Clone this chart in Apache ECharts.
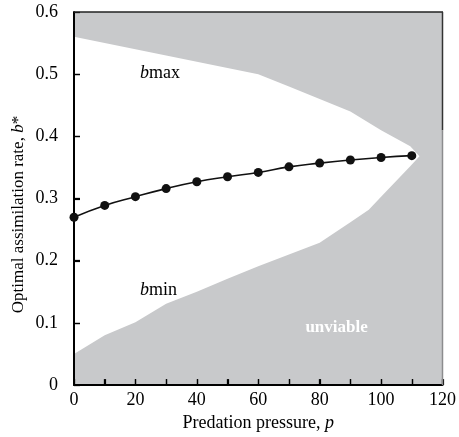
<!DOCTYPE html>
<html>
<head>
<meta charset="utf-8">
<script src="https://cdn.jsdelivr.net/npm/echarts@6/dist/echarts.min.js"></script>
<style>html,body{margin:0;padding:0;background:#fff}#c{width:459px;height:437px}</style>
</head>
<body>
<div id="c"></div>
<script>
// Data
const pressure = [0, 10, 20, 30, 40, 50, 60, 70, 80, 90, 100, 110];
const optimalB = [0.270, 0.289, 0.303, 0.316, 0.327, 0.335, 0.342, 0.351, 0.357, 0.362, 0.366, 0.369];
const bmaxP = [0, 10, 20, 30, 40, 50, 60, 70, 80, 90, 100, 109.5, 112.5];
const bmaxV = [0.560, 0.550, 0.540, 0.530, 0.520, 0.510, 0.500, 0.480, 0.460, 0.440, 0.410, 0.384, 0.368];
const bminP = [0, 10, 20, 30, 40, 50, 60, 70, 80, 90, 96, 100, 109.5, 112.5];
const bminV = [0.050, 0.080, 0.101, 0.131, 0.150, 0.171, 0.191, 0.210, 0.229, 0.262, 0.282, 0.303, 0.352, 0.368];
const xTicks = [0, 20, 40, 60, 80, 100, 120];
const xMinorTicks = [10, 20, 30, 40, 50, 60, 70, 80, 90, 100, 110, 120];
const yTicks = [0, 0.1, 0.2, 0.3, 0.4, 0.5, 0.6];

const GRAY = '#c8c9cb';
const FONT = 'Liberation Serif';
const chart = echarts.init(document.getElementById('c'));
const zip = (a, b) => a.map((v, i) => [v, b[i]]);

// viable region polygon: along bmax forward, then bmin backward
const viable = zip(bmaxP, bmaxV).concat(zip(bminP, bminV).reverse());

chart.setOption({
  animation: false,
  grid: { left: 74, right: 15, top: 12, bottom: 51, show: true, backgroundColor: GRAY, borderWidth: 0 },
  xAxis: {
    type: 'value', min: 0, max: 120, interval: 10, z: 50,
    name: 'Predation pressure, {i|p}', nameLocation: 'middle', nameGap: 28,
    nameTextStyle: { fontFamily: FONT, fontSize: 18, color: '#000', rich: { i: { fontFamily: FONT, fontSize: 18, fontStyle: 'italic', color: '#000' } } },
    axisLine: { show: true, lineStyle: { color: '#000', width: 2 } },
    axisTick: { show: true, inside: true, length: 6, lineStyle: { color: '#000', width: 1.3 } },
    axisLabel: { fontFamily: FONT, fontSize: 18, color: '#000', margin: 6,
      formatter: v => xTicks.indexOf(v) >= 0 ? String(v) : '' },
    splitLine: { show: false }
  },
  yAxis: {
    type: 'value', min: 0, max: 0.6, interval: 0.1, z: 50,
    axisLine: { show: true, lineStyle: { color: '#000', width: 2 } },
    axisTick: { show: true, inside: true, length: 6, lineStyle: { color: '#000', width: 1.3 } },
    axisLabel: { fontFamily: FONT, fontSize: 18, color: '#000', margin: 16,
      formatter: v => { const t = yTicks.find(k => Math.abs(k - v) < 1e-9); return t === undefined ? '' : (t === 0 ? '0' : t.toFixed(1)); } },
    splitLine: { show: false }
  },
  series: [
    { type: 'custom', data: [0], silent: true, z: 1,
      renderItem: (params, api) => ({
        type: 'polygon',
        shape: { points: viable.map(p => api.coord(p)) },
        style: { fill: '#fff', stroke: null }
      }) },
    { type: 'line', data: zip(pressure, optimalB), smooth: true, symbol: 'circle', symbolSize: 9,
      itemStyle: { color: '#111' }, lineStyle: { color: '#111', width: 1.6 }, z: 60 }
  ]
});

function place() {
  const px = p => chart.convertToPixel({ gridIndex: 0 }, p);
  const a = px([21.5, 0.502]);
  const b = px([21.5, 0.152]);
  const u = px([85.5, 0.093]);
  const tl = px([0, 0.6]);
  const tr = px([120, 0.6]);
  const rm = px([120, 0.41]);
  const br = px([120, 0]);
  const bl = px([0, 0]);
  const rich = { i: { fontFamily: FONT, fontSize: 18, fontStyle: 'italic', fill: '#000' }, r: { fontFamily: FONT, fontSize: 18, fill: '#000' } };
  const tickEls = [];
  xMinorTicks.forEach(v => {
    const p = px([v, 0]);
    tickEls.push({ type: 'line', shape: { x1: Math.round(p[0]) + 0.5, y1: p[1], x2: Math.round(p[0]) + 0.5, y2: p[1] - 6 }, style: { stroke: '#000', lineWidth: 1.2 }, z: 70 });
  });
  yTicks.slice(1, -1).forEach(v => {
    const p = px([0, v]);
    tickEls.push({ type: 'line', shape: { x1: p[0], y1: Math.round(p[1]) + 0.5, x2: p[0] + 6, y2: Math.round(p[1]) + 0.5 }, style: { stroke: '#000', lineWidth: 1.2 }, z: 70 });
  });
  chart.setOption({ graphic: tickEls.concat([
    { type: 'line', shape: { x1: tl[0], y1: tl[1], x2: tr[0] + 0.5, y2: tr[1] }, style: { stroke: '#222', lineWidth: 1.5 }, z: 70 },
    { type: 'line', shape: { x1: tr[0], y1: tr[1], x2: rm[0], y2: rm[1] }, style: { stroke: '#333', lineWidth: 1.5 }, z: 70 },
    { type: 'line', shape: { x1: rm[0], y1: rm[1], x2: br[0], y2: br[1] }, style: { stroke: '#8c8c8e', lineWidth: 1.5 }, z: 70 },
    { type: 'text', x: 18.5, y: (tl[1] + bl[1]) / 2 + 16, rotation: Math.PI / 2,
      style: { text: '{r|Optimal assimilation rate, }{i|b}{r|*}', rich: {
        i: { fontFamily: FONT, fontSize: 17, fontStyle: 'italic', fill: '#000' },
        r: { fontFamily: FONT, fontSize: 17, fill: '#000' } }, align: 'center', verticalAlign: 'middle' }, z: 70 },
    { type: 'text', x: a[0], y: a[1], style: { text: '{i|b}{r|max}', rich, verticalAlign: 'middle', align: 'left' }, z: 70 },
    { type: 'text', x: b[0], y: b[1], style: { text: '{i|b}{r|min}', rich, verticalAlign: 'middle', align: 'left' }, z: 70 },
    { type: 'text', x: u[0], y: u[1], style: { text: 'unviable', fontFamily: FONT, fontSize: 17, fontWeight: 'bold', fill: '#fff', align: 'center', verticalAlign: 'middle' }, z: 70 }
  ])});
}
place();
</script>
</body>
</html>
